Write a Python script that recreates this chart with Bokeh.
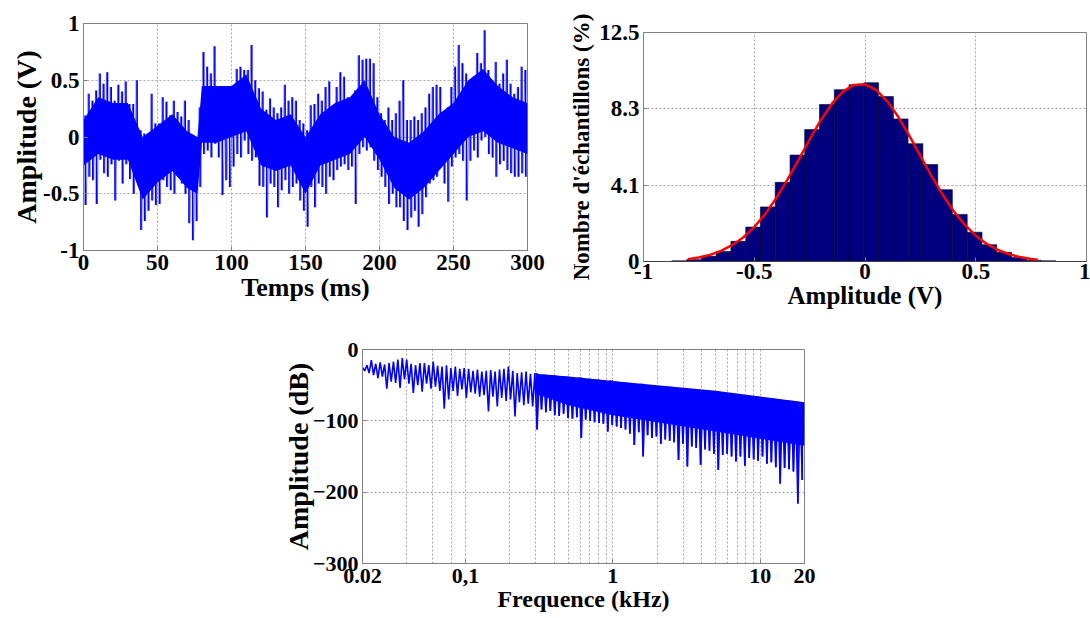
import numpy as np
from bokeh.plotting import figure
from bokeh.layouts import column, row, Spacer
from bokeh.models import Range1d, FixedTicker, Span
from bokeh.embed import file_html
from bokeh.resources import INLINE

FONT = "Liberation Serif"

# time signal, 2.5 ms bins: local maximum / local minimum (V)
sig_hi = [0.19, 0.38, 0.32, 0.41, 0.56, 0.47, 0.57, 0.44, 0.32, 0.46, 0.40, 0.49, 0.29, 0.29, 0.50, 0.06, 0.03, 0.03, 0.38, 0.12,
          0.12, 0.35, 0.31, 0.19, 0.32, 0.22, 0.18, 0.32, 0.15, -0.09, -0.09, 0.26, 0.75, 0.62, 0.56, 0.80, 0.44, 0.37, 0.38, 0.32,
          0.35, 0.60, 0.62, 0.59, 0.59, 0.81, 0.50, 0.43, 0.40, 0.24, 0.34, 0.26, 0.21, 0.26, 0.46, 0.32, 0.35, 0.32, 0.15, 0.12,
          0.06, 0.28, 0.29, 0.38, 0.32, 0.44, 0.49, 0.28, 0.44, 0.57, 0.53, 0.35, 0.32, 0.41, 0.72, 0.68, 0.69, 0.69, 0.65, 0.35,
          0.21, 0.15, 0.26, 0.15, 0.21, 0.32, 0.50, 0.15, 0.15, 0.18, 0.15, 0.21, 0.26, 0.38, 0.44, 0.46, 0.44, 0.18, 0.26, 0.44,
          0.62, 0.81, 0.65, 0.56, 0.38, 0.53, 0.74, 0.65, 0.94, 0.59, 0.50, 0.66, 0.47, 0.56, 0.68, 0.47, 0.38, 0.44, 0.62, 0.59]
sig_lo = [-0.60, -0.35, -0.38, -0.59, -0.20, -0.32, -0.35, -0.24, -0.56, -0.21, -0.41, -0.24, -0.37, -0.50, -0.29, -0.82, -0.74, -0.65, -0.56, -0.60,
          -0.59, -0.38, -0.44, -0.47, -0.50, -0.35, -0.41, -0.50, -0.76, -0.91, -0.74, -0.44, -0.15, -0.12, -0.18, -0.06, -0.18, -0.51, -0.38, -0.44,
          -0.26, -0.15, -0.18, -0.03, -0.15, -0.21, -0.18, -0.43, -0.44, -0.71, -0.41, -0.44, -0.62, -0.47, -0.38, -0.50, -0.44, -0.41, -0.56, -0.65,
          -0.79, -0.44, -0.62, -0.41, -0.44, -0.50, -0.35, -0.38, -0.29, -0.26, -0.24, -0.29, -0.26, -0.59, -0.15, -0.09, -0.12, -0.09, -0.21, -0.29,
          -0.35, -0.44, -0.59, -0.50, -0.62, -0.62, -0.74, -0.82, -0.71, -0.65, -0.79, -0.68, -0.53, -0.41, -0.38, -0.35, -0.24, -0.41, -0.57, -0.26,
          -0.18, -0.15, -0.21, -0.56, -0.21, -0.12, -0.18, -0.03, 0.00, -0.15, -0.18, -0.35, -0.24, -0.21, -0.29, -0.32, -0.35, -0.35, -0.32, -0.35]
sig_bin_ms = 2.5
# dense core of the trace, read every 10 ms (V)
core_t = [0, 10, 20, 30, 40, 50, 60, 70, 77, 80, 90, 100, 110, 120, 130, 140, 150, 160, 170, 180, 190, 200,
          210, 220, 230, 240, 250, 260, 270, 280, 290, 300]
core_hi = [0.15, 0.35, 0.30, 0.30, 0.00, 0.10, 0.20, 0.05, 0.00, 0.45, 0.45, 0.45, 0.55, 0.25, 0.15, 0.20, 0.00, 0.20,
           0.30, 0.35, 0.50, 0.20, 0.00, -0.05, 0.05, 0.20, 0.30, 0.50, 0.60, 0.45, 0.35, 0.30]
core_lo = [-0.25, -0.15, -0.20, -0.20, -0.55, -0.40, -0.30, -0.45, -0.50, -0.05, -0.05, 0.00, 0.05, -0.25, -0.30, -0.25,
           -0.50, -0.25, -0.20, -0.15, 0.00, -0.20, -0.45, -0.55, -0.45, -0.30, -0.15, 0.00, 0.05, -0.05, -0.10, -0.15]

# amplitude histogram (% of samples) and fitted curve
hist_centers = [-0.839, -0.772, -0.705, -0.639, -0.572, -0.505, -0.439, -0.372, -0.305, -0.239, -0.172, -0.105, -0.039,
                0.028, 0.095, 0.161, 0.228, 0.295, 0.361, 0.428, 0.495, 0.561, 0.628, 0.695, 0.761, 0.828]
hist_counts = [0.04, 0.10, 0.28, 0.55, 1.10, 1.88, 2.98, 4.32, 5.81, 7.20, 8.57, 9.38, 9.65,
               9.76, 9.00, 7.78, 6.43, 5.29, 3.92, 2.57, 1.60, 0.92, 0.50, 0.22, 0.07, 0.04]
hist_width = 0.0667

fit_x = [-0.80, -0.75, -0.70, -0.65, -0.60, -0.55, -0.50, -0.45, -0.40, -0.35, -0.30, -0.25, -0.20, -0.15, -0.10, -0.05, 0.00,
         0.05, 0.10, 0.15, 0.20, 0.25, 0.30, 0.35, 0.40, 0.45, 0.50, 0.55, 0.60, 0.65, 0.70, 0.75, 0.78]
fit_y = [0.13, 0.22, 0.36, 0.58, 0.89, 1.31, 1.88, 2.60, 3.47, 4.47, 5.55, 6.66, 7.70, 8.60, 9.27, 9.64, 9.67,
         9.37, 8.76, 7.90, 6.87, 5.77, 4.68, 3.66, 2.76, 2.01, 1.41, 0.96, 0.63, 0.40, 0.24, 0.14, 0.10]

# spectrum, 100 log-spaced bins 0.02-20 kHz: local maximum / local minimum (dB)
spec_hi = [-25, -22, -15, -20, -18, -21, -19, -17, -14, -12,
           -14, -20, -22, -19, -19, -22, -17, -23, -24, -22,
           -26, -24, -27, -26, -27, -30, -28, -31, -30, -29,
           -31, -28, -27, -24, -30, -33, -32, -31, -34, -33,
           -36, -35, -37, -36, -37, -38, -38, -40, -40, -39,
           -41, -41, -42, -42, -43, -44, -43, -45, -46, -46,
           -47, -48, -49, -48, -50, -51, -51, -52, -53, -52,
           -54, -54, -55, -56, -56, -57, -58, -58, -58, -60,
           -60, -61, -62, -62, -63, -64, -64, -65, -66, -66,
           -67, -68, -68, -69, -70, -71, -71, -72, -73, -74]
spec_lo = [-30, -33, -36, -40, -38, -55, -45, -47, -54, -42,
           -48, -61, -50, -59, -48, -55, -52, -58, -83, -70,
           -58, -65, -56, -68, -60, -62, -66, -64, -87, -66,
           -80, -68, -72, -70, -94, -74, -78, -76, -80, -112,
           -84, -88, -86, -92, -93, -90, -96, -97, -95, -124,
           -98, -100, -102, -103, -104, -115, -106, -108, -110, -112,
           -118, -134, -116, -150, -120, -124, -122, -132, -126, -128,
           -130, -155, -132, -164, -136, -138, -162, -140, -142, -146,
           -169, -148, -146, -150, -157, -150, -163, -152, -154, -156,
           -150, -160, -158, -165, -188, -166, -168, -171, -216, -183]
spec_fmin, spec_fmax = 0.02, 20.0
spec_dense_from = 0.3  # kHz: above this the trace forms a dense band
# dense core of the spectrum band (dB)
spec_core_f = [0.3, 0.5, 1, 2, 5, 10, 20]
spec_core_top = [-34, -38, -44, -50, -58, -66, -74]
spec_core_bot = [-62, -78, -92, -102, -115, -125, -135]

BLUE = "#0000ff"
GRID = "#a6a6a6"
AXC = "#808080"


def style(p, tick_size, xlabel_size=None, ylabel_size=None):
    p.outline_line_color = AXC
    p.background_fill_color = "white"
    p.border_fill_color = "white"
    for ax in p.axis:
        ax.axis_line_color = AXC
        ax.major_tick_line_color = AXC
        ax.major_tick_in = 4
        ax.major_tick_out = 0
        ax.minor_tick_line_color = None
        ax.major_label_text_font = FONT
        ax.major_label_text_font_style = "bold"
        ax.major_label_text_font_size = tick_size
        ax.major_label_text_color = "black"
        ax.axis_label_text_font = FONT
        ax.axis_label_text_font_style = "bold"
        ax.axis_label_text_color = "black"
    if xlabel_size:
        p.xaxis.axis_label_text_font_size = xlabel_size
    if ylabel_size:
        p.yaxis.axis_label_text_font_size = ylabel_size
    for g in p.grid:
        g.grid_line_color = GRID
        g.grid_line_dash = "2 2"
        g.grid_line_width = 1


# ---------------- panel 1: time signal ----------------
p1 = figure(width=560, height=310, x_range=Range1d(0, 300), y_range=Range1d(-1, 1),
            output_backend="svg", toolbar_location=None,
            min_border_left=83, min_border_right=33, min_border_top=23, min_border_bottom=60)
n = len(sig_hi)
tc = np.arange(n) * sig_bin_ms + sig_bin_ms / 2
p1.varea(x=core_t, y1=core_lo, y2=core_hi, fill_color=BLUE, fill_alpha=1.0)
p1.segment(x0=tc, y0=sig_lo, x1=tc, y1=sig_hi, line_color=BLUE, line_width=1.5)
xs = np.empty(2 * n)
ys = np.empty(2 * n)
xs[0::2] = tc - sig_bin_ms / 4
xs[1::2] = tc + sig_bin_ms / 4
ys[0::2] = sig_hi
ys[1::2] = sig_lo
p1.line(xs, ys, line_color=BLUE, line_width=0.8, line_alpha=0.6)
p1.xaxis.ticker = FixedTicker(ticks=[0, 50, 100, 150, 200, 250, 300])
p1.yaxis.ticker = FixedTicker(ticks=[-1, -0.5, 0, 0.5, 1])
p1.yaxis.major_label_overrides = {-1: "-1", -0.5: "-0.5", 0: "0", 0.5: "0.5", 1: "1"}
p1.xaxis.axis_label = "Temps (ms)"
p1.yaxis.axis_label = "Amplitude (V)"
style(p1, "23px", "26px", "28px")
p1.xaxis.major_label_standoff = 4
p1.xaxis.axis_label_standoff = 0
p1.yaxis.major_label_standoff = 4
p1.yaxis.axis_label_standoff = -2

# ---------------- panel 2: histogram ----------------
p2 = figure(width=530, height=313, x_range=Range1d(-1, 1), y_range=Range1d(0, 12.5),
            output_backend="svg", toolbar_location=None,
            min_border_left=83, min_border_right=4, min_border_top=32, min_border_bottom=52)
hc = np.array(hist_centers)
p2.quad(left=hc - hist_width / 2, right=hc + hist_width / 2, top=hist_counts, bottom=0,
        fill_color="#00007f", line_color="#000022", line_width=0.6)
p2.line(fit_x, fit_y, line_color="#ff0000", line_width=2.5)
p2.add_layout(Span(location=0, dimension="width", line_color="black", line_width=1))
p2.xaxis.ticker = FixedTicker(ticks=[-1, -0.5, 0, 0.5, 1])
p2.xaxis.major_label_overrides = {-1: "-1", -0.5: "-0.5", 0: "0", 0.5: "0.5", 1: "1"}
yt = [0, 12.5 / 3, 25 / 3, 12.5]
p2.yaxis.ticker = FixedTicker(ticks=yt)
p2.yaxis.major_label_overrides = {yt[0]: "0", yt[1]: "4.1", yt[2]: "8.3", yt[3]: "12.5"}
p2.xaxis.axis_label = "Amplitude (V)"
p2.yaxis.axis_label = "Nombre d'échantillons (%)"
style(p2, "23px", "25px", "23px")
p2.xaxis.major_label_standoff = 2
p2.xaxis.axis_label_standoff = 0
p2.yaxis.major_label_standoff = 4
p2.yaxis.axis_label_standoff = 2

# ---------------- panel 3: spectrum ----------------
p3 = figure(width=562, height=303, x_axis_type="log", x_range=Range1d(spec_fmin, spec_fmax),
            y_range=Range1d(-300, 0), output_backend="svg", toolbar_location=None,
            min_border_left=90, min_border_right=30, min_border_top=36, min_border_bottom=53)
m = len(spec_hi)
edges = np.geomspace(spec_fmin, spec_fmax, m + 1)
fmid = np.sqrt(edges[:-1] * edges[1:])
dense = fmid >= spec_dense_from
shi = np.array(spec_hi, dtype=float)
slo = np.array(spec_lo, dtype=float)
p3.varea(x=spec_core_f, y1=spec_core_bot, y2=spec_core_top, fill_color=BLUE, fill_alpha=1.0)
p3.segment(x0=fmid[dense], y0=slo[dense], x1=fmid[dense], y1=shi[dense], line_color=BLUE, line_width=1.6)
fx = np.empty(2 * m)
fy = np.empty(2 * m)
fx[0::2] = edges[:-1]
fx[1::2] = fmid
fy[0::2] = shi
fy[1::2] = slo
p3.line(fx, fy, line_color=BLUE, line_width=1.6)
minor = [0.04, 0.06, 0.08, 0.2, 0.3, 0.4, 0.5, 0.6, 0.7, 0.8, 0.9, 2, 3, 4, 5, 6, 7, 8, 9]
xt = FixedTicker(ticks=[0.02, 0.1, 1, 10, 20], minor_ticks=minor)
p3.xaxis.ticker = xt
p3.xgrid.ticker = xt
p3.xaxis.major_label_overrides = {0.02: "0.02", 0.1: "0,1", 1: "1", 10: "10", 20: "20"}
p3.yaxis.ticker = FixedTicker(ticks=[-300, -200, -100, 0])
p3.xaxis.axis_label = "Frequence (kHz)"
p3.yaxis.axis_label = "Amplitude (dB)"
style(p3, "22px", "24px", "28px")
p3.xgrid.minor_grid_line_color = GRID
p3.xgrid.minor_grid_line_dash = "2 2"
p3.xaxis.major_label_standoff = 1
p3.xaxis.axis_label_standoff = 0
p3.yaxis.major_label_standoff = 4
p3.yaxis.axis_label_standoff = -4

top_row = row(column(p1, spacing=0), column(p2, spacing=0), spacing=0)
bottom_row = row(Spacer(width=272, height=303), p3, spacing=0)
layout = column(top_row, bottom_row, spacing=0)
open("out.html", "w").write(file_html(layout, INLINE, title="chart"))
